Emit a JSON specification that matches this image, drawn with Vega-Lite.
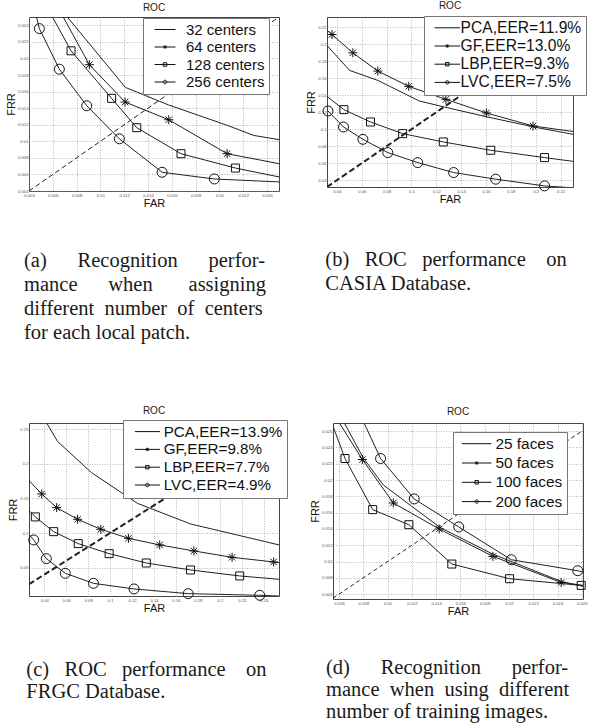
{
 "$schema": "https://vega.github.io/schema/vega-lite/v6.json",
 "background": "white",
 "padding": {"left": 5, "top": 0, "right": 0, "bottom": 0},
 "spacing": 61,
 "resolve": {"scale": {"x": "independent", "y": "independent", "shape": "independent"}, "legend": {"shape": "independent"}},
 "config": {
  "view": {"stroke": "#444", "strokeWidth": 1},
  "axis": {"grid": true, "gridColor": "#9a9a9a", "gridDash": [1, 1.5], "gridWidth": 0.7, "domain": false, "ticks": false, "labelFont": "Liberation Sans", "labelFontSize": 4.2, "labelColor": "#555", "labelPadding": 1, "titleFont": "Liberation Sans", "titleFontSize": 11, "titleFontWeight": "normal", "titleColor": "#111", "titlePadding": 1, "labelFlush": false, "labelOverlap": false, "format": "~g"},
  "axisX": {"labelPadding": 2.5, "titlePadding": 0},
  "legend": {"title": null, "orient": "none", "fillColor": "white", "strokeColor": "#777", "padding": 4, "labelFont": "Liberation Sans", "labelColor": "#111", "labelLimit": 400, "symbolSize": 100, "symbolStrokeWidth": 1, "symbolStrokeColor": "#111", "symbolFillColor": "transparent", "symbolOpacity": 1}
 },
 "vconcat": [
  {
   "hconcat": [
    {
     "title": {"text": ["(a)\u00a0\u00a0\u00a0\u00a0\u00a0\u00a0Recognition\u00a0\u00a0\u00a0\u00a0\u00a0\u00a0perfor-", "mance\u00a0\u00a0\u00a0\u00a0\u00a0\u00a0when\u00a0\u00a0\u00a0\u00a0\u00a0\u00a0\u00a0assigning", "different\u00a0\u00a0number\u00a0\u00a0of\u00a0\u00a0centers", "for each local patch."], "orient": "bottom", "anchor": "start", "frame": "bounds", "font": "Liberation Serif", "fontSize": 20.5, "fontWeight": "normal", "lineHeight": 24, "offset": 42, "dx": 19, "color": "#1a1a1a"},
     "vconcat": [
      {
       "title": {"text": "ROC", "font": "Liberation Sans", "fontSize": 10, "fontWeight": "normal", "offset": 4, "color": "#222", "anchor": "middle", "frame": "group"},
       "width": 250, "height": 174,
       "data": {"values": [
          {"s": "32 centers", "x": 0.0071, "y": 0.0252}, {"s": "32 centers", "x": 0.0121, "y": 0.0165}, {"s": "32 centers", "x": 0.0157, "y": 0.0144}, {"s": "32 centers", "x": 0.0207, "y": 0.0119}, {"s": "32 centers", "x": 0.0229, "y": 0.0107}, {"s": "32 centers", "x": 0.025, "y": 0.0102},
          {"s": "64 centers", "x": 0.0068, "y": 0.0252}, {"s": "64 centers", "x": 0.00907, "y": 0.01924, "m": 1}, {"s": "64 centers", "x": 0.01207, "y": 0.01474, "m": 1}, {"s": "64 centers", "x": 0.01574, "y": 0.0126, "m": 1}, {"s": "64 centers", "x": 0.02064, "y": 0.0085, "m": 1}, {"s": "64 centers", "x": 0.025, "y": 0.0073},
          {"s": "128 centers", "x": 0.0059, "y": 0.0252}, {"s": "128 centers", "x": 0.00753, "y": 0.02092, "m": 1}, {"s": "128 centers", "x": 0.01094, "y": 0.01518, "m": 1}, {"s": "128 centers", "x": 0.01305, "y": 0.01164, "m": 1}, {"s": "128 centers", "x": 0.01677, "y": 0.0085, "m": 1}, {"s": "128 centers", "x": 0.02134, "y": 0.00677, "m": 1}, {"s": "128 centers", "x": 0.025, "y": 0.0057},
          {"s": "256 centers", "x": 0.0046, "y": 0.0252}, {"s": "256 centers", "x": 0.00487, "y": 0.0236, "m": 1}, {"s": "256 centers", "x": 0.00655, "y": 0.0187, "m": 1}, {"s": "256 centers", "x": 0.00885, "y": 0.01429, "m": 1}, {"s": "256 centers", "x": 0.01159, "y": 0.0103, "m": 1}, {"s": "256 centers", "x": 0.01518, "y": 0.00626, "m": 1}, {"s": "256 centers", "x": 0.01957, "y": 0.00545, "m": 1}, {"s": "256 centers", "x": 0.025, "y": 0.0051}
       ]},
       "encoding": {
        "x": {"field": "x", "type": "quantitative", "scale": {"domain": [0.004, 0.025], "nice": false, "zero": false}, "axis": {"title": "FAR", "values": [0.004, 0.006, 0.008, 0.01, 0.012, 0.014, 0.016, 0.018, 0.02, 0.022, 0.024]}},
        "y": {"field": "y", "type": "quantitative", "scale": {"domain": [0.004, 0.025], "nice": false, "zero": false}, "axis": {"title": "FRR", "values": [0.004, 0.006, 0.008, 0.01, 0.012, 0.014, 0.016, 0.018, 0.02, 0.022, 0.024]}}
       },
       "layer": [
        {"data": {"values": [{"x": 0.004, "y": 0.004}, {"x": 0.025, "y": 0.025}]}, "mark": {"type": "line", "clip": true, "strokeDash": [5, 3], "strokeWidth": 1, "color": "#222"}, "encoding": {}},
        {"mark": {"type": "line", "clip": true, "strokeWidth": 1, "color": "#222"}, "encoding": {"detail": {"field": "s"}}},
        {"transform": [{"filter": "datum.m == 1"}], "mark": {"type": "point", "filled": false, "stroke": "#111", "strokeWidth": 1, "size": 100, "opacity": 1},
         "encoding": {"shape": {"field": "s", "type": "nominal", "legend": null,
          "scale": {"domain": ["32 centers", "64 centers", "128 centers", "256 centers"], "range": ["M0,0L0,0", "M-0.9,0H0.9M0,-0.9V0.9M-0.64,-0.64L0.64,0.64M-0.64,0.64L0.64,-0.64", "M-0.8,-0.8H0.8V0.8H-0.8Z", "M1,0A1,1,0,1,1,-1,0A1,1,0,1,1,1,0Z"]}}}},
        {"transform": [{"filter": "datum.m == 99"}], "mark": {"type": "point", "filled": false, "stroke": "#111", "strokeWidth": 1, "size": 100, "opacity": 1},
         "encoding": {"shape": {"field": "s", "type": "nominal",
          "scale": {"domain": ["32 centers", "64 centers", "128 centers", "256 centers"], "range": ["M0,0H4.2", "M0,0H4.2M1.75,0H2.45M2.1,-0.35V0.35M1.85,-0.25L2.35,0.25M1.85,0.25L2.35,-0.25", "M0,0H4.2M1.75,-0.35H2.45V0.35H1.75Z", "M0,0H4.2M2.45,0A0.35,0.35,0,1,1,1.75,0A0.35,0.35,0,1,1,2.45,0Z"]},
          "legend": {"legendX": 114, "legendY": 1, "rowPadding": 1.5, "labelFontSize": 15, "labelOffset": 24, "labelExpr": "datum.label + '\u00a0'"}}}}
       ],
       "resolve": {"scale": {"shape": "independent"}, "legend": {"shape": "independent"}}
      }
     ]
    },
    {
     "title": {"text": ["(b)\u00a0\u00a0\u00a0ROC\u00a0\u00a0\u00a0performance\u00a0\u00a0\u00a0\u00a0on", "CASIA Database."], "orient": "bottom", "anchor": "start", "frame": "bounds", "font": "Liberation Serif", "fontSize": 20.5, "fontWeight": "normal", "lineHeight": 24, "offset": 45, "dx": 20, "color": "#1a1a1a"},
     "vconcat": [
      {
       "title": {"text": "ROC", "font": "Liberation Sans", "fontSize": 10, "fontWeight": "normal", "offset": 5, "color": "#222", "anchor": "middle", "frame": "group"},
       "width": 246, "height": 170,
       "data": {"values": [
          {"s": "PCA,EER=11.9%", "x": 0.032, "y": 0.1985}, {"s": "PCA,EER=11.9%", "x": 0.0502, "y": 0.1692}, {"s": "PCA,EER=11.9%", "x": 0.0729, "y": 0.1574}, {"s": "PCA,EER=11.9%", "x": 0.1063, "y": 0.1332}, {"s": "PCA,EER=11.9%", "x": 0.1264, "y": 0.1261}, {"s": "PCA,EER=11.9%", "x": 0.1611, "y": 0.1144}, {"s": "PCA,EER=11.9%", "x": 0.1986, "y": 0.1026}, {"s": "PCA,EER=11.9%", "x": 0.23, "y": 0.094},
          {"s": "GF,EER=13.0%", "x": 0.032, "y": 0.2165}, {"s": "GF,EER=13.0%", "x": 0.036, "y": 0.2114, "m": 1}, {"s": "GF,EER=13.0%", "x": 0.0528, "y": 0.1899, "m": 1}, {"s": "GF,EER=13.0%", "x": 0.0729, "y": 0.1684, "m": 1}, {"s": "GF,EER=13.0%", "x": 0.0978, "y": 0.1504, "m": 1}, {"s": "GF,EER=13.0%", "x": 0.1277, "y": 0.1351, "m": 1}, {"s": "GF,EER=13.0%", "x": 0.1603, "y": 0.1191, "m": 1}, {"s": "GF,EER=13.0%", "x": 0.1978, "y": 0.1038, "m": 1}, {"s": "GF,EER=13.0%", "x": 0.23, "y": 0.0973},
          {"s": "LBP,EER=9.3%", "x": 0.032, "y": 0.1386}, {"s": "LBP,EER=9.3%", "x": 0.0456, "y": 0.123, "m": 1}, {"s": "LBP,EER=9.3%", "x": 0.067, "y": 0.1085, "m": 1}, {"s": "LBP,EER=9.3%", "x": 0.0929, "y": 0.0948, "m": 1}, {"s": "LBP,EER=9.3%", "x": 0.1256, "y": 0.085, "m": 1}, {"s": "LBP,EER=9.3%", "x": 0.1638, "y": 0.0752, "m": 1}, {"s": "LBP,EER=9.3%", "x": 0.2071, "y": 0.0666, "m": 1}, {"s": "LBP,EER=9.3%", "x": 0.23, "y": 0.0622},
          {"s": "LVC,EER=7.5%", "x": 0.032, "y": 0.1225}, {"s": "LVC,EER=7.5%", "x": 0.0328, "y": 0.1214, "m": 1}, {"s": "LVC,EER=7.5%", "x": 0.0453, "y": 0.1026, "m": 1}, {"s": "LVC,EER=7.5%", "x": 0.0609, "y": 0.0881, "m": 1}, {"s": "LVC,EER=7.5%", "x": 0.0809, "y": 0.0725, "m": 1}, {"s": "LVC,EER=7.5%", "x": 0.105, "y": 0.0607, "m": 1}, {"s": "LVC,EER=7.5%", "x": 0.1339, "y": 0.049, "m": 1}, {"s": "LVC,EER=7.5%", "x": 0.1678, "y": 0.0412, "m": 1}, {"s": "LVC,EER=7.5%", "x": 0.2071, "y": 0.0333, "m": 1}, {"s": "LVC,EER=7.5%", "x": 0.23, "y": 0.031}
       ]},
       "encoding": {
        "x": {"field": "x", "type": "quantitative", "scale": {"domain": [0.032, 0.23], "nice": false, "zero": false}, "axis": {"title": "FAR", "values": [0.04, 0.06, 0.08, 0.1, 0.12, 0.14, 0.16, 0.18, 0.2, 0.22]}},
        "y": {"field": "y", "type": "quantitative", "scale": {"domain": [0.032, 0.232], "nice": false, "zero": false}, "axis": {"title": "FRR", "values": [0.04, 0.06, 0.08, 0.1, 0.12, 0.14, 0.16, 0.18, 0.2, 0.22]}}
       },
       "layer": [
        {"data": {"values": [{"x": 0.032, "y": 0.032}, {"x": 0.23, "y": 0.23}]}, "mark": {"type": "line", "clip": true, "strokeDash": [6, 3], "strokeWidth": 2, "color": "#222"}, "encoding": {}},
        {"mark": {"type": "line", "clip": true, "strokeWidth": 1, "color": "#222"}, "encoding": {"detail": {"field": "s"}}},
        {"transform": [{"filter": "datum.m == 1"}], "mark": {"type": "point", "filled": false, "stroke": "#111", "strokeWidth": 1, "size": 100, "opacity": 1},
         "encoding": {"shape": {"field": "s", "type": "nominal", "legend": null,
          "scale": {"domain": ["PCA,EER=11.9%", "GF,EER=13.0%", "LBP,EER=9.3%", "LVC,EER=7.5%"], "range": ["M0,0L0,0", "M-0.9,0H0.9M0,-0.9V0.9M-0.64,-0.64L0.64,0.64M-0.64,0.64L0.64,-0.64", "M-0.8,-0.8H0.8V0.8H-0.8Z", "M1,0A1,1,0,1,1,-1,0A1,1,0,1,1,1,0Z"]}}}},
        {"transform": [{"filter": "datum.m == 99"}], "mark": {"type": "point", "filled": false, "stroke": "#111", "strokeWidth": 1, "size": 100, "opacity": 1},
         "encoding": {"shape": {"field": "s", "type": "nominal",
          "scale": {"domain": ["PCA,EER=11.9%", "GF,EER=13.0%", "LBP,EER=9.3%", "LVC,EER=7.5%"], "range": ["M-0.26,0H4.86", "M-0.26,0H4.86M1.95,0H2.65M2.3,-0.35V0.35M2.05,-0.25L2.55,0.25M2.05,0.25L2.55,-0.25", "M-0.26,0H4.86M1.95,-0.35H2.65V0.35H1.95Z", "M-0.26,0H4.86M2.65,0A0.35,0.35,0,1,1,1.95,0A0.35,0.35,0,1,1,2.65,0Z"]},
          "legend": {"legendX": 97, "legendY": -1, "rowPadding": 1.2, "labelFontSize": 15.6, "labelOffset": 17}}}}
       ],
       "resolve": {"scale": {"shape": "independent"}, "legend": {"shape": "independent"}}
      }
     ]
    }
   ],
   "spacing": 25,
   "resolve": {"scale": {"x": "independent", "y": "independent", "shape": "independent"}, "legend": {"shape": "independent"}}
  },
  {
   "hconcat": [
    {
     "title": {"text": ["(c)\u00a0\u00a0\u00a0ROC\u00a0\u00a0\u00a0performance\u00a0\u00a0\u00a0\u00a0on", "FRGC Database."], "orient": "bottom", "anchor": "start", "frame": "bounds", "font": "Liberation Serif", "fontSize": 20.5, "fontWeight": "normal", "lineHeight": 22, "offset": 45.7, "dx": 19, "color": "#1a1a1a"},
     "vconcat": [
      {
       "title": {"text": "ROC", "font": "Liberation Sans", "fontSize": 10, "fontWeight": "normal", "offset": 4, "color": "#222", "anchor": "middle", "frame": "group"},
       "width": 250, "height": 173,
       "data": {"values": [
          {"s": "PCA,EER=13.9%", "x": 0.041, "y": 0.262}, {"s": "PCA,EER=13.9%", "x": 0.0521, "y": 0.2322}, {"s": "PCA,EER=13.9%", "x": 0.083, "y": 0.1873}, {"s": "PCA,EER=13.9%", "x": 0.1248, "y": 0.143}, {"s": "PCA,EER=13.9%", "x": 0.1733, "y": 0.1131}, {"s": "PCA,EER=13.9%", "x": 0.2158, "y": 0.0972}, {"s": "PCA,EER=13.9%", "x": 0.254, "y": 0.0828},
          {"s": "GF,EER=9.8%", "x": 0.026, "y": 0.1758}, {"s": "GF,EER=9.8%", "x": 0.0376, "y": 0.1565, "m": 1}, {"s": "GF,EER=9.8%", "x": 0.0512, "y": 0.1367, "m": 1}, {"s": "GF,EER=9.8%", "x": 0.0703, "y": 0.1199, "m": 1}, {"s": "GF,EER=9.8%", "x": 0.0915, "y": 0.1054, "m": 1}, {"s": "GF,EER=9.8%", "x": 0.1167, "y": 0.0924, "m": 1}, {"s": "GF,EER=9.8%", "x": 0.1452, "y": 0.0828, "m": 1}, {"s": "GF,EER=9.8%", "x": 0.1764, "y": 0.0741, "m": 1}, {"s": "GF,EER=9.8%", "x": 0.2112, "y": 0.0649, "m": 1}, {"s": "GF,EER=9.8%", "x": 0.2491, "y": 0.0582, "m": 1}, {"s": "GF,EER=9.8%", "x": 0.254, "y": 0.0572},
          {"s": "LBP,EER=7.7%", "x": 0.026, "y": 0.1324}, {"s": "LBP,EER=7.7%", "x": 0.0318, "y": 0.1233, "m": 1}, {"s": "LBP,EER=7.7%", "x": 0.0485, "y": 0.102, "m": 1}, {"s": "LBP,EER=7.7%", "x": 0.0709, "y": 0.0847, "m": 1}, {"s": "LBP,EER=7.7%", "x": 0.0991, "y": 0.0702, "m": 1}, {"s": "LBP,EER=7.7%", "x": 0.133, "y": 0.0567, "m": 1}, {"s": "LBP,EER=7.7%", "x": 0.1733, "y": 0.0466, "m": 1}, {"s": "LBP,EER=7.7%", "x": 0.2182, "y": 0.038, "m": 1}, {"s": "LBP,EER=7.7%", "x": 0.254, "y": 0.0331},
          {"s": "LVC,EER=4.9%", "x": 0.026, "y": 0.098}, {"s": "LVC,EER=4.9%", "x": 0.0303, "y": 0.09, "m": 1}, {"s": "LVC,EER=4.9%", "x": 0.0418, "y": 0.063, "m": 1}, {"s": "LVC,EER=4.9%", "x": 0.0591, "y": 0.0418, "m": 1}, {"s": "LVC,EER=4.9%", "x": 0.0848, "y": 0.0273, "m": 1}, {"s": "LVC,EER=4.9%", "x": 0.1218, "y": 0.0192, "m": 1}, {"s": "LVC,EER=4.9%", "x": 0.1712, "y": 0.0124, "m": 1}, {"s": "LVC,EER=4.9%", "x": 0.2364, "y": 0.01, "m": 1}, {"s": "LVC,EER=4.9%", "x": 0.254, "y": 0.009}
       ]},
       "encoding": {
        "x": {"field": "x", "type": "quantitative", "scale": {"domain": [0.026, 0.254], "nice": false, "zero": false}, "axis": {"title": "FAR", "values": [0.04, 0.06, 0.08, 0.1, 0.12, 0.14, 0.16, 0.18, 0.2, 0.22, 0.24]}},
        "y": {"field": "y", "type": "quantitative", "scale": {"domain": [0.009, 0.259], "nice": false, "zero": false}, "axis": {"title": "FRR", "values": [0.05, 0.1, 0.15, 0.2, 0.25]}}
       },
       "layer": [
        {"data": {"values": [{"x": 0.026, "y": 0.026}, {"x": 0.254, "y": 0.254}]}, "mark": {"type": "line", "clip": true, "strokeDash": [6, 3], "strokeWidth": 2, "color": "#222"}, "encoding": {}},
        {"mark": {"type": "line", "clip": true, "strokeWidth": 1, "color": "#222"}, "encoding": {"detail": {"field": "s"}}},
        {"transform": [{"filter": "datum.m == 1"}], "mark": {"type": "point", "filled": false, "stroke": "#111", "strokeWidth": 1, "size": 100, "opacity": 1},
         "encoding": {"shape": {"field": "s", "type": "nominal", "legend": null,
          "scale": {"domain": ["PCA,EER=13.9%", "GF,EER=9.8%", "LBP,EER=7.7%", "LVC,EER=4.9%"], "range": ["M0,0L0,0", "M-0.9,0H0.9M0,-0.9V0.9M-0.64,-0.64L0.64,0.64M-0.64,0.64L0.64,-0.64", "M-0.8,-0.8H0.8V0.8H-0.8Z", "M1,0A1,1,0,1,1,-1,0A1,1,0,1,1,1,0Z"]}}}},
        {"transform": [{"filter": "datum.m == 99"}], "mark": {"type": "point", "filled": false, "stroke": "#111", "strokeWidth": 1, "size": 100, "opacity": 1},
         "encoding": {"shape": {"field": "s", "type": "nominal",
          "scale": {"domain": ["PCA,EER=13.9%", "GF,EER=9.8%", "LBP,EER=7.7%", "LVC,EER=4.9%"], "range": ["M0.06,0H5.06", "M0.06,0H5.06M2.2,0H2.9M2.55,-0.35V0.35M2.3,-0.25L2.8,0.25M2.3,0.25L2.8,-0.25", "M0.06,0H5.06M2.2,-0.35H2.9V0.35H2.2Z", "M0.06,0H5.06M2.9,0A0.35,0.35,0,1,1,2.2,0A0.35,0.35,0,1,1,2.9,0Z"]},
          "legend": {"legendX": 94, "legendY": -3, "rowPadding": 1.8, "labelFontSize": 15.2, "labelOffset": 21.5}}}}
       ],
       "resolve": {"scale": {"shape": "independent"}, "legend": {"shape": "independent"}}
      }
     ]
    },
    {
     "title": {"text": ["(d)\u00a0\u00a0\u00a0\u00a0\u00a0\u00a0Recognition\u00a0\u00a0\u00a0\u00a0\u00a0\u00a0perfor-", "mance\u00a0\u00a0when\u00a0\u00a0using\u00a0\u00a0different", "number of training images."], "orient": "bottom", "anchor": "start", "frame": "bounds", "font": "Liberation Serif", "fontSize": 20.5, "fontWeight": "normal", "lineHeight": 22, "offset": 40.7, "dx": 17, "color": "#1a1a1a"},
     "vconcat": [
      {
       "title": {"text": "ROC", "font": "Liberation Sans", "fontSize": 10, "fontWeight": "normal", "offset": 6, "color": "#222", "anchor": "middle", "frame": "group"},
       "width": 250, "height": 176,
       "data": {"values": [
          {"s": "25 faces", "x": 0.00636, "y": 0.0272}, {"s": "25 faces", "x": 0.008, "y": 0.0227}, {"s": "25 faces", "x": 0.00964, "y": 0.0194}, {"s": "25 faces", "x": 0.0143, "y": 0.0142}, {"s": "25 faces", "x": 0.01868, "y": 0.0109}, {"s": "25 faces", "x": 0.0243, "y": 0.00756}, {"s": "25 faces", "x": 0.02614, "y": 0.00694},
          {"s": "50 faces", "x": 0.00595, "y": 0.0272}, {"s": "50 faces", "x": 0.00792, "y": 0.02252, "m": 1}, {"s": "50 faces", "x": 0.01047, "y": 0.01719, "m": 1}, {"s": "50 faces", "x": 0.01425, "y": 0.01399, "m": 1}, {"s": "50 faces", "x": 0.01868, "y": 0.01063, "m": 1}, {"s": "50 faces", "x": 0.0243, "y": 0.00743, "m": 1}, {"s": "50 faces", "x": 0.02614, "y": 0.00707},
          {"s": "100 faces", "x": 0.0054, "y": 0.027}, {"s": "100 faces", "x": 0.00649, "y": 0.02264, "m": 1}, {"s": "100 faces", "x": 0.00877, "y": 0.01637, "m": 1}, {"s": "100 faces", "x": 0.01175, "y": 0.01452, "m": 1}, {"s": "100 faces", "x": 0.01529, "y": 0.00969, "m": 1}, {"s": "100 faces", "x": 0.02005, "y": 0.00789, "m": 1}, {"s": "100 faces", "x": 0.02595, "y": 0.00707, "m": 1}, {"s": "100 faces", "x": 0.02614, "y": 0.00702},
          {"s": "200 faces", "x": 0.008, "y": 0.0272}, {"s": "200 faces", "x": 0.00942, "y": 0.02264, "m": 1}, {"s": "200 faces", "x": 0.01219, "y": 0.01768, "m": 1}, {"s": "200 faces", "x": 0.01586, "y": 0.01424, "m": 1}, {"s": "200 faces", "x": 0.02019, "y": 0.01022, "m": 1}, {"s": "200 faces", "x": 0.02567, "y": 0.00887, "m": 1}, {"s": "200 faces", "x": 0.02614, "y": 0.0087}
       ]},
       "encoding": {
        "x": {"field": "x", "type": "quantitative", "scale": {"domain": [0.0055, 0.0261], "nice": false, "zero": false}, "axis": {"title": "FAR", "values": [0.006, 0.008, 0.01, 0.012, 0.014, 0.016, 0.018, 0.02, 0.022, 0.024, 0.026]}},
        "y": {"field": "y", "type": "quantitative", "scale": {"domain": [0.0054, 0.027], "nice": false, "zero": false}, "axis": {"title": "FRR", "values": [0.006, 0.008, 0.01, 0.012, 0.014, 0.016, 0.018, 0.02, 0.022, 0.024, 0.026]}}
       },
       "layer": [
        {"data": {"values": [{"x": 0.0055, "y": 0.0055}, {"x": 0.0261, "y": 0.0261}]}, "mark": {"type": "line", "clip": true, "strokeDash": [4, 3], "strokeWidth": 1, "color": "#222"}, "encoding": {}},
        {"mark": {"type": "line", "clip": true, "strokeWidth": 1, "color": "#222"}, "encoding": {"detail": {"field": "s"}}},
        {"transform": [{"filter": "datum.m == 1"}], "mark": {"type": "point", "filled": false, "stroke": "#111", "strokeWidth": 1, "size": 100, "opacity": 1},
         "encoding": {"shape": {"field": "s", "type": "nominal", "legend": null,
          "scale": {"domain": ["25 faces", "50 faces", "100 faces", "200 faces"], "range": ["M0,0L0,0", "M-0.9,0H0.9M0,-0.9V0.9M-0.64,-0.64L0.64,0.64M-0.64,0.64L0.64,-0.64", "M-0.8,-0.8H0.8V0.8H-0.8Z", "M1,0A1,1,0,1,1,-1,0A1,1,0,1,1,1,0Z"]}}}},
        {"transform": [{"filter": "datum.m == 99"}], "mark": {"type": "point", "filled": false, "stroke": "#111", "strokeWidth": 1, "size": 100, "opacity": 1},
         "encoding": {"shape": {"field": "s", "type": "nominal",
          "scale": {"domain": ["25 faces", "50 faces", "100 faces", "200 faces"], "range": ["M-0.54,0H5.34", "M-0.54,0H5.34M2.05,0H2.75M2.4,-0.35V0.35M2.15,-0.25L2.65,0.25M2.15,0.25L2.65,-0.25", "M-0.54,0H5.34M2.05,-0.35H2.75V0.35H2.05Z", "M-0.54,0H5.34M2.75,0A0.35,0.35,0,1,1,2.05,0A0.35,0.35,0,1,1,2.75,0Z"]},
          "legend": {"legendX": 120, "legendY": 9, "rowPadding": 2.3, "labelFontSize": 15.4, "labelOffset": 23, "labelExpr": "datum.label + '\u00a0\u00a0'"}}}}
       ],
       "resolve": {"scale": {"shape": "independent"}, "legend": {"shape": "independent"}}
      }
     ]
    }
   ],
   "spacing": 21,
   "resolve": {"scale": {"x": "independent", "y": "independent", "shape": "independent"}, "legend": {"shape": "independent"}}
  }
 ]
}
